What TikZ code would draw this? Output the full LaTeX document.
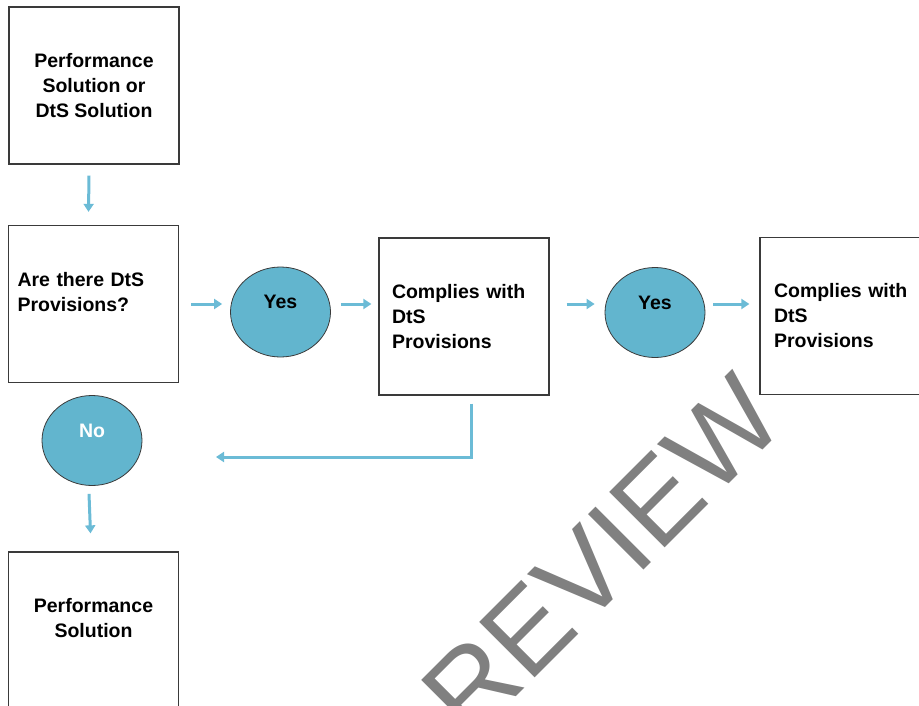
\documentclass[tikz,border=0pt]{standalone}
\usepackage{fontspec}
\setmainfont{Liberation Sans}
\usepackage{xcolor}
\definecolor{flowFill}{HTML}{62B5CE}
\definecolor{flowLine}{HTML}{6BBBD6}
\definecolor{flowEdge}{HTML}{3A3A3A}
\definecolor{markGray}{HTML}{808080}
\usetikzlibrary{arrows.meta,shapes.geometric}

\begin{document}
\begin{tikzpicture}[x=1pt, y=-1pt,
  stepbox/.style={rectangle, draw=flowEdge, line width=1.3pt, minimum width=170pt, minimum height=157pt, inner sep=0pt, font=\bfseries\fontsize{19.5}{25}\selectfont},
  answer/.style={ellipse, draw=flowEdge, line width=0.8pt, fill=flowFill, minimum width=100pt, minimum height=90pt, inner sep=0pt, align=center, font=\bfseries\fontsize{19.5}{20}\selectfont},
  link/.style={flowLine, line width=3pt, -{Triangle[width=10pt,length=8pt]}}]
  \clip (0,0) rectangle (919,705);
  \node[text=markGray, rotate=45, inner sep=0pt, font=\fontsize{114}{114}\selectfont] (mark) at (602,556) {REVIEW};
  \node[stepbox, align=center] (start) at (94,85.5) {Performance\\Solution or\\DtS Solution};
  \node[stepbox, align=left, text width=152pt] (query) at (93.5,304) {Are there DtS\\Provisions?\\~};
  \node[stepbox, align=left, text width=144pt] (check) at (464,316.5) {Complies with\\DtS\\Provisions};
  \node[stepbox, align=left, text width=142pt] (result) at (845,316) {Complies with\\DtS\\Provisions};
  \node[stepbox, align=center] (alt) at (93.5,630.5) {Performance\\Solution\\~};
  \node[answer] (yes1) at (280.5,312) {Yes\\~};
  \node[answer] (yes2) at (655,312.5) {Yes\\~};
  \node[answer, text=white] (no) at (92,440.5) {No\\~};
  \coordinate (back) at (216,457);
  \draw[link] ([shift={(-5pt,-11pt)}]start.south) -- ([shift={(-5pt,13pt)}]query.north);
  \draw[link] ([xshift=12pt]query.east) -- ([xshift=-8pt]yes1.west |- query.east);
  \draw[link] ([xshift=10pt]yes1.east |- query.east) -- ([xshift=-7pt]check.west |- query.east);
  \draw[link] ([xshift=17pt]check.east |- query.east) -- ([xshift=-10pt]yes2.west |- query.east);
  \draw[link] ([xshift=8pt]yes2.east |- query.east) -- ([xshift=-10pt]result.west |- query.east);
  \draw[link] ([shift={(7pt,-8pt)}]check.south) |- (back);
  \draw[link] ([shift={(-3pt,-8pt)}]no.south) -- ([shift={(-3pt,18pt)}]alt.north);
\end{tikzpicture}
\end{document}
